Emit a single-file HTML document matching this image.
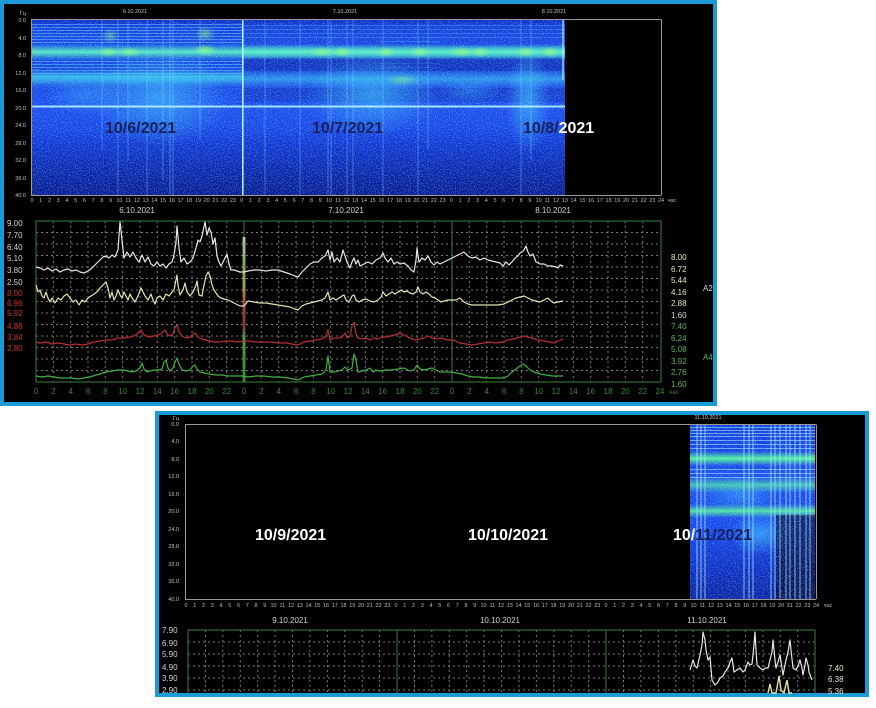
<!DOCTYPE html>
<html><head><meta charset="utf-8"><style>
html,body{margin:0;padding:0;background:#fff;width:876px;height:708px;overflow:hidden}
svg{display:block}
text{font-family:"Liberation Sans",sans-serif}
</style></head><body>
<svg width="876" height="708" viewBox="0 0 876 708" xmlns="http://www.w3.org/2000/svg">
<defs>
 <linearGradient id="sg" x1="0" y1="0" x2="0" y2="1">
  <stop offset="0" stop-color="#0a28c0"/><stop offset="0.03" stop-color="#1238d8"/>
  <stop offset="0.15" stop-color="#1644e6"/><stop offset="0.3" stop-color="#1442e0"/>
  <stop offset="0.5" stop-color="#1a4cf0"/><stop offset="0.62" stop-color="#1744e6"/>
  <stop offset="0.72" stop-color="#0f34d0"/><stop offset="0.85" stop-color="#0a26b0"/>
  <stop offset="1" stop-color="#061890"/>
 </linearGradient>
 <linearGradient id="sg2" x1="0" y1="0" x2="0" y2="1">
  <stop offset="0" stop-color="#1038d8"/><stop offset="0.3" stop-color="#1848f0"/>
  <stop offset="0.6" stop-color="#1644ea"/><stop offset="0.8" stop-color="#0e30c8"/>
  <stop offset="1" stop-color="#0820a0"/>
 </linearGradient>
 <linearGradient id="b1" x1="0" y1="0" x2="0" y2="1">
  <stop offset="0" stop-color="#48f0c0" stop-opacity="0"/><stop offset="0.5" stop-color="#58f4c0" stop-opacity="0.95"/><stop offset="1" stop-color="#48f0c0" stop-opacity="0"/>
 </linearGradient>
 <linearGradient id="b2" x1="0" y1="0" x2="0" y2="1">
  <stop offset="0" stop-color="#38c8f0" stop-opacity="0"/><stop offset="0.5" stop-color="#38c8f0" stop-opacity="0.6"/><stop offset="1" stop-color="#38c8f0" stop-opacity="0"/>
 </linearGradient>
 <linearGradient id="b3" x1="0" y1="0" x2="0" y2="1">
  <stop offset="0" stop-color="#50ff90" stop-opacity="0"/><stop offset="0.5" stop-color="#58ff98" stop-opacity="0.95"/><stop offset="1" stop-color="#50ff90" stop-opacity="0"/>
 </linearGradient>
 <linearGradient id="bar" x1="0" y1="0" x2="0" y2="1">
  <stop offset="0" stop-color="#e0f0d8"/><stop offset="0.2" stop-color="#a0d070"/>
  <stop offset="0.35" stop-color="#d0c050"/><stop offset="0.45" stop-color="#c85040"/>
  <stop offset="0.62" stop-color="#a03838"/><stop offset="0.7" stop-color="#58c058"/>
  <stop offset="1" stop-color="#38a038"/>
 </linearGradient>
 <radialGradient id="hz"><stop offset="0" stop-color="#40d8ff" stop-opacity="0.55"/><stop offset="1" stop-color="#40d8ff" stop-opacity="0"/></radialGradient>
 <radialGradient id="gz"><stop offset="0" stop-color="#90ff80" stop-opacity="0.8"/><stop offset="1" stop-color="#90ff80" stop-opacity="0"/></radialGradient>
 <filter id="nz" x="0" y="0" width="1" height="1"><feTurbulence type="fractalNoise" baseFrequency="0.85" numOctaves="1" seed="5"/><feColorMatrix type="matrix" values="0 0 0 0 0.35  0 0 0 0 0.75  0 0 0 0 1  0 0 0 3 -1.4"/></filter>
 <clipPath id="c1"><rect x="32" y="20" width="533" height="175"/></clipPath>
 <clipPath id="c2"><rect x="690" y="425" width="125" height="174"/></clipPath>
</defs>

<!-- ========== TOP PANEL ========== -->
<rect x="0" y="0" width="717" height="406" fill="#1b9ad8"/>
<rect x="4" y="4" width="709" height="398" fill="#000"/>

<g clip-path="url(#c1)">
 <rect x="32" y="20" width="533" height="175" fill="url(#sg)"/>
 <g stroke="#58c8ff" stroke-width="1" opacity="0.55">
  <line x1="32" y1="24.5" x2="243" y2="24.5"/><line x1="32" y1="27.5" x2="243" y2="27.5"/>
  <line x1="32" y1="30.5" x2="243" y2="30.5"/><line x1="32" y1="33.5" x2="243" y2="33.5"/>
  <line x1="32" y1="36.5" x2="243" y2="36.5"/><line x1="32" y1="39.5" x2="243" y2="39.5"/>
  <line x1="32" y1="42.5" x2="243" y2="42.5"/>
  <line x1="32" y1="61.5" x2="243" y2="61.5"/><line x1="32" y1="64.5" x2="243" y2="64.5"/>
  <line x1="32" y1="67.5" x2="243" y2="67.5"/><line x1="32" y1="70.5" x2="243" y2="70.5"/>
  <line x1="32" y1="73.5" x2="243" y2="73.5"/><line x1="32" y1="76.5" x2="243" y2="76.5"/>
 </g>
 <g stroke="#58c8ff" stroke-width="1" opacity="0.3">
  <line x1="244" y1="25.5" x2="565" y2="25.5"/><line x1="244" y1="29.5" x2="565" y2="29.5"/>
  <line x1="244" y1="33.5" x2="565" y2="33.5"/><line x1="244" y1="37.5" x2="565" y2="37.5"/>
  <line x1="380" y1="41.5" x2="440" y2="41.5"/><line x1="380" y1="63.5" x2="440" y2="63.5"/>
  <line x1="380" y1="67.5" x2="440" y2="67.5"/>
 </g>
 <rect x="244" y="58" width="321" height="13" fill="#041890" opacity="0.4"/>
 <rect x="244" y="88" width="321" height="14" fill="#041890" opacity="0.25"/>
 <ellipse cx="160" cy="98" rx="70" ry="48" fill="url(#hz)"/>
 <ellipse cx="372" cy="95" rx="66" ry="42" fill="url(#hz)"/>
 <ellipse cx="528" cy="100" rx="22" ry="55" fill="url(#hz)"/>
 <ellipse cx="85" cy="95" rx="40" ry="20" fill="url(#hz)" opacity="0.6"/>
 <ellipse cx="470" cy="90" rx="30" ry="14" fill="url(#hz)" opacity="0.5"/>
 <rect x="32" y="44" width="533" height="16" fill="url(#b1)"/>
 <rect x="244" y="45" width="321" height="14" fill="url(#b1)" opacity="0.6"/>
 <rect x="32" y="70" width="533" height="18" fill="url(#b2)"/>
 <rect x="32" y="70" width="211" height="14" fill="url(#b2)"/>
 <ellipse cx="108" cy="52" rx="10" ry="5" fill="url(#gz)"/>
 <ellipse cx="130" cy="52" rx="12" ry="5" fill="url(#gz)"/>
 <ellipse cx="205" cy="50" rx="12" ry="6" fill="url(#gz)"/>
 <ellipse cx="205" cy="34" rx="10" ry="8" fill="url(#gz)" opacity="0.7"/>
 <ellipse cx="110" cy="36" rx="8" ry="8" fill="url(#gz)" opacity="0.6"/>
 <ellipse cx="322" cy="52" rx="12" ry="5" fill="url(#gz)"/>
 <ellipse cx="342" cy="52" rx="10" ry="5" fill="url(#gz)"/>
 <ellipse cx="386" cy="52" rx="10" ry="5" fill="url(#gz)"/>
 <ellipse cx="420" cy="52" rx="10" ry="5" fill="url(#gz)"/>
 <ellipse cx="462" cy="52" rx="12" ry="5" fill="url(#gz)"/>
 <ellipse cx="480" cy="52" rx="10" ry="5" fill="url(#gz)"/>
 <ellipse cx="526" cy="52" rx="10" ry="5" fill="url(#gz)"/>
 <ellipse cx="550" cy="52" rx="10" ry="5" fill="url(#gz)"/>
 <ellipse cx="403" cy="80" rx="18" ry="6" fill="url(#gz)" opacity="0.6"/>
 <rect x="32" y="105.5" width="533" height="2" fill="#b8f4ff" opacity="0.9"/>
 <g stroke="#90e0ff" stroke-width="1" opacity="0.35">
  <line x1="102" y1="20" x2="102" y2="150"/><line x1="118" y1="20" x2="118" y2="195"/>
  <line x1="128" y1="20" x2="128" y2="160"/><line x1="147" y1="20" x2="147" y2="195"/>
  <line x1="163" y1="20" x2="163" y2="180"/><line x1="170" y1="20" x2="170" y2="195"/>
  <line x1="173" y1="20" x2="173" y2="195"/><line x1="200" y1="20" x2="200" y2="140"/>
  <line x1="265" y1="20" x2="265" y2="195"/><line x1="300" y1="20" x2="300" y2="195"/>
  <line x1="328" y1="20" x2="328" y2="195"/><line x1="331" y1="20" x2="331" y2="195"/>
  <line x1="347" y1="20" x2="347" y2="195"/><line x1="353" y1="20" x2="353" y2="195"/>
  <line x1="383" y1="20" x2="383" y2="195"/><line x1="418" y1="20" x2="418" y2="195"/>
  <line x1="428" y1="20" x2="428" y2="150"/><line x1="521" y1="20" x2="521" y2="195"/>
  <line x1="531" y1="20" x2="531" y2="160"/>
 </g>
 <line x1="242.8" y1="20" x2="242.8" y2="195" stroke="#c8fff0" stroke-width="1.6" opacity="0.9"/>
 <line x1="563" y1="20" x2="563" y2="80" stroke="#a0e8ff" stroke-width="1.6" opacity="0.8"/>
 <rect x="32" y="20" width="533" height="175" filter="url(#nz)" opacity="0.5"/>
</g>
<g stroke="#9a9a9a" stroke-width="1" fill="none">
 <line x1="32" y1="19.5" x2="661" y2="19.5"/>
 <line x1="661.5" y1="19.5" x2="661.5" y2="195"/>
 <line x1="31.5" y1="19" x2="31.5" y2="196"/>
 <line x1="32" y1="195.5" x2="661" y2="195.5"/>
</g>
<g fill="#c0c0c0" font-size="5.5" text-anchor="end">
 <text x="26" y="15">Гц</text>
 <text x="26" y="22">0.0</text><text x="26" y="40">4.0</text><text x="26" y="57">8.0</text>
 <text x="26" y="75">12.0</text><text x="26" y="92">16.0</text><text x="26" y="110">20.0</text>
 <text x="26" y="127">24.0</text><text x="26" y="145">28.0</text><text x="26" y="162">32.0</text>
 <text x="26" y="180">36.0</text><text x="26" y="197">40.0</text>
</g>
<g fill="#c0c0c0" font-size="5.5" text-anchor="middle">
 <text x="135" y="13">6.10.2021</text><text x="345" y="13">7.10.2021</text><text x="554" y="13">8.10.2021</text>
</g>
<text fill="#bcbcbc" font-size="5.5" text-anchor="middle" y="202"><tspan x="32">0</tspan><tspan x="40.7">1</tspan><tspan x="49.5">2</tspan><tspan x="58.2">3</tspan><tspan x="66.9">4</tspan><tspan x="75.7">5</tspan><tspan x="84.4">6</tspan><tspan x="93.2">7</tspan><tspan x="101.9">8</tspan><tspan x="110.6">9</tspan><tspan x="119.4">10</tspan><tspan x="128.1">11</tspan><tspan x="136.8">12</tspan><tspan x="145.6">13</tspan><tspan x="154.3">14</tspan><tspan x="163">15</tspan><tspan x="171.8">16</tspan><tspan x="180.5">17</tspan><tspan x="189.2">18</tspan><tspan x="198">19</tspan><tspan x="206.7">20</tspan><tspan x="215.5">21</tspan><tspan x="224.2">22</tspan><tspan x="232.9">23</tspan><tspan x="241.7">0</tspan><tspan x="250.4">1</tspan><tspan x="259.1">2</tspan><tspan x="267.9">3</tspan><tspan x="276.6">4</tspan><tspan x="285.3">5</tspan><tspan x="294.1">6</tspan><tspan x="302.8">7</tspan><tspan x="311.5">8</tspan><tspan x="320.3">9</tspan><tspan x="329">10</tspan><tspan x="337.8">11</tspan><tspan x="346.5">12</tspan><tspan x="355.2">13</tspan><tspan x="364">14</tspan><tspan x="372.7">15</tspan><tspan x="381.4">16</tspan><tspan x="390.2">17</tspan><tspan x="398.9">18</tspan><tspan x="407.6">19</tspan><tspan x="416.4">20</tspan><tspan x="425.1">21</tspan><tspan x="433.9">22</tspan><tspan x="442.6">23</tspan><tspan x="451.3">0</tspan><tspan x="460.1">1</tspan><tspan x="468.8">2</tspan><tspan x="477.5">3</tspan><tspan x="486.3">4</tspan><tspan x="495">5</tspan><tspan x="503.7">6</tspan><tspan x="512.5">7</tspan><tspan x="521.2">8</tspan><tspan x="529.9">9</tspan><tspan x="538.7">10</tspan><tspan x="547.4">11</tspan><tspan x="556.2">12</tspan><tspan x="564.9">13</tspan><tspan x="573.6">14</tspan><tspan x="582.4">15</tspan><tspan x="591.1">16</tspan><tspan x="599.8">17</tspan><tspan x="608.6">18</tspan><tspan x="617.3">19</tspan><tspan x="626">20</tspan><tspan x="634.8">21</tspan><tspan x="643.5">22</tspan><tspan x="652.3">23</tspan><tspan x="661">24</tspan><tspan x="672">час</tspan></text>

<g font-size="16" font-weight="bold">
 <text x="105" y="133" fill="#18225a">10/6/2021</text>
 <text x="312" y="133" fill="#18225a">10/7/2021</text>
 <text x="523" y="133" fill="#18225a">10/8/<tspan fill="#ffffff">2021</tspan></text>
</g>

<g fill="#d0d0d0" font-size="8" text-anchor="middle">
 <text x="137" y="213">6.10.2021</text><text x="346" y="213">7.10.2021</text><text x="553" y="213">8.10.2021</text>
</g>
<g stroke="#7a7a7a" stroke-width="1" stroke-dasharray="2,3">
 <line x1="36" y1="232.5" x2="661" y2="232.5"/><line x1="36" y1="244" x2="661" y2="244"/>
 <line x1="36" y1="255.5" x2="661" y2="255.5"/><line x1="36" y1="267" x2="661" y2="267"/>
 <line x1="36" y1="278.5" x2="661" y2="278.5"/><line x1="36" y1="290" x2="661" y2="290"/>
 <line x1="36" y1="301.5" x2="661" y2="301.5"/><line x1="36" y1="313" x2="661" y2="313"/>
 <line x1="36" y1="324.5" x2="661" y2="324.5"/><line x1="36" y1="336" x2="661" y2="336"/>
 <line x1="36" y1="347.5" x2="661" y2="347.5"/><line x1="36" y1="359" x2="661" y2="359"/>
 <line x1="36" y1="370.5" x2="661" y2="370.5"/>
 <line x1="53.3" y1="221" x2="53.3" y2="382"/><line x1="70.7" y1="221" x2="70.7" y2="382"/>
 <line x1="88" y1="221" x2="88" y2="382"/><line x1="105.3" y1="221" x2="105.3" y2="382"/>
 <line x1="122.7" y1="221" x2="122.7" y2="382"/><line x1="140" y1="221" x2="140" y2="382"/>
 <line x1="157.3" y1="221" x2="157.3" y2="382"/><line x1="174.7" y1="221" x2="174.7" y2="382"/>
 <line x1="192" y1="221" x2="192" y2="382"/><line x1="209.3" y1="221" x2="209.3" y2="382"/>
 <line x1="226.7" y1="221" x2="226.7" y2="382"/>
 <line x1="261.3" y1="221" x2="261.3" y2="382"/><line x1="278.7" y1="221" x2="278.7" y2="382"/>
 <line x1="296" y1="221" x2="296" y2="382"/><line x1="313.3" y1="221" x2="313.3" y2="382"/>
 <line x1="330.7" y1="221" x2="330.7" y2="382"/><line x1="348" y1="221" x2="348" y2="382"/>
 <line x1="365.3" y1="221" x2="365.3" y2="382"/><line x1="382.7" y1="221" x2="382.7" y2="382"/>
 <line x1="400" y1="221" x2="400" y2="382"/><line x1="417.3" y1="221" x2="417.3" y2="382"/>
 <line x1="434.7" y1="221" x2="434.7" y2="382"/>
 <line x1="469.3" y1="221" x2="469.3" y2="382"/><line x1="486.7" y1="221" x2="486.7" y2="382"/>
 <line x1="504" y1="221" x2="504" y2="382"/><line x1="521.3" y1="221" x2="521.3" y2="382"/>
 <line x1="538.7" y1="221" x2="538.7" y2="382"/><line x1="556" y1="221" x2="556" y2="382"/>
 <line x1="573.3" y1="221" x2="573.3" y2="382"/><line x1="590.7" y1="221" x2="590.7" y2="382"/>
 <line x1="608" y1="221" x2="608" y2="382"/><line x1="625.3" y1="221" x2="625.3" y2="382"/>
 <line x1="642.7" y1="221" x2="642.7" y2="382"/>
</g>
<g stroke="#2f6a2f" stroke-width="1.2" fill="none">
 <rect x="36" y="221" width="625" height="161"/>
 <line x1="244" y1="221" x2="244" y2="382"/><line x1="452" y1="221" x2="452" y2="382"/>
</g>
<rect x="242.5" y="237" width="3" height="145" fill="url(#bar)" opacity="0.75"/>
<g fill="none" stroke-width="1.2" stroke-linejoin="round">
 <polyline stroke="#e6e6e6" points="36,267 40,268 44,270 48,268 52,271 56,269 60,272 64,270 68,269 72,271 76,270 80,272 84,273 88,271 92,268 96,264 100,260 103,257 106,256 109,258 112,255 115,257 118,250 120,222 122,240 124,258 127,252 130,257 133,252 136,258 139,262 142,255 145,262 148,257 151,264 154,266 157,262 160,266 163,264 166,268 169,264 172,262 174,255 176,242 177,226 179,248 181,262 184,258 187,264 190,262 193,258 196,248 198,240 200,242 202,236 205,222 207,235 209,228 211,232 213,244 215,238 217,256 219,262 221,266 223,262 225,258 227,254 229,264 231,270 234,270 237,271 240,272 244,272 248,271 254,270 260,270 266,271 272,270 278,270 284,272 290,274 295,276 298,277 302,272 306,268 310,264 314,262 318,262 322,258 325,256 328,250 330,260 332,252 334,262 337,258 340,262 343,250 345,256 347,262 350,268 352,262 354,258 356,264 358,260 360,266 364,264 368,262 372,264 376,260 380,258 383,253 385,258 388,262 391,258 394,264 397,262 400,264 404,263 408,266 411,270 414,272 416,260 417,248 419,262 422,258 425,260 428,256 431,262 434,265 437,262 440,264 444,262 448,260 452,258 456,256 460,254 464,252 468,256 472,258 476,257 480,260 484,258 488,260 492,261 496,262 500,263 503,266 506,262 509,265 512,262 515,258 518,256 520,253 522,252 524,250 526,246 528,252 530,256 533,254 536,262 540,264 544,264 548,266 552,266 556,267 558,268 560,265 563,266"/>
 <polyline stroke="#e4e4b0" points="36,285 38,292 40,290 42,296 44,298 46,292 48,298 50,302 52,298 55,303 58,298 61,300 64,296 67,294 70,298 73,302 76,300 79,305 82,300 85,302 88,298 91,296 94,294 97,292 100,288 103,285 106,282 108,288 110,298 112,292 114,300 116,296 118,290 120,295 122,298 124,292 126,296 128,300 130,294 132,298 135,302 138,296 141,288 143,292 145,296 148,300 151,294 153,300 155,304 157,298 160,296 163,300 166,294 169,296 172,292 174,290 176,280 177,275 178,285 180,295 183,290 185,283 187,292 190,296 193,292 196,285 197,281 199,295 202,296 204,285 206,276 208,272 210,276 212,285 214,290 216,293 218,296 221,298 224,299 228,300 232,302 236,304 240,306 244,306 248,301 254,302 260,303 266,303 272,304 278,305 284,306 290,307 295,309 298,310 302,306 306,304 310,303 314,302 318,301 322,300 325,298 328,292 330,300 333,298 336,300 339,298 342,296 344,295 346,300 349,302 352,296 354,295 356,300 359,302 362,300 366,299 370,301 374,302 378,300 381,297 383,292 386,296 389,294 392,292 395,294 398,292 401,290 404,292 407,291 410,293 413,294 416,292 418,287 420,292 423,294 426,292 429,294 432,297 435,298 438,300 441,302 444,301 448,300 452,300 456,300 460,298 464,302 468,304 472,305 476,305 480,305 486,305 492,305 498,305 504,304 508,302 512,300 516,298 520,297 524,296 528,298 532,300 536,301 540,302 544,300 548,298 551,301 554,303 558,302 563,301"/>
 <polyline stroke="#b83030" points="36,342 40,343 46,342 52,344 58,343 64,344 70,345 76,344 82,345 88,344 94,342 100,341 106,340 112,340 118,338 124,338 130,337 134,336 138,333 141,330 143,334 146,336 150,337 154,336 158,335 162,333 165,330 167,334 170,336 173,334 175,328 177,325 179,332 182,336 186,338 190,337 193,334 195,333 198,337 202,339 206,340 210,341 214,342 220,342 226,341 232,341 238,342 244,341 248,341 254,342 262,342 270,342 278,343 286,343 292,344 298,345 304,342 310,341 316,340 322,339 326,336 328,330 330,340 334,338 338,338 342,337 345,333 347,338 350,336 352,326 354,322 356,334 358,338 362,339 366,338 370,340 374,338 378,339 382,337 386,337 390,336 394,335 398,334 400,333 404,335 408,337 412,339 416,340 420,339 424,338 428,336 432,338 436,339 440,338 444,339 448,340 452,340 456,341 460,343 466,344 472,345 478,344 484,343 490,342 496,343 502,342 508,340 514,339 520,337 524,336 528,337 532,338 538,340 544,341 550,342 554,343 558,341 563,339"/>
 <polyline stroke="#40b040" points="36,376 42,377 48,376 54,377 60,378 66,378 72,378 78,379 84,378 90,377 96,375 100,374 106,372 112,371 118,370 124,370 128,371 132,372 136,371 140,368 142,363 144,369 147,372 150,371 154,370 158,370 162,369 164,362 166,360 168,368 170,371 173,368 175,362 177,358 179,364 182,370 186,371 190,370 193,366 195,365 197,369 200,372 205,373 210,374 216,375 222,375 228,376 234,376 240,376 244,376 248,377 256,376 264,376 272,377 280,377 288,378 294,379 298,380 304,377 310,376 316,375 322,374 326,370 328,356 330,372 334,372 338,371 342,370 345,367 348,370 352,368 354,354 356,360 358,372 362,371 366,370 370,368 373,372 376,370 380,371 386,370 392,370 398,369 404,368 410,371 414,370 417,365 420,369 424,370 428,369 432,368 436,370 440,372 446,372 452,372 456,373 462,374 468,376 474,377 480,377 486,378 492,378 498,378 504,378 508,376 512,372 516,369 520,366 523,364 526,366 530,370 534,372 540,374 546,375 552,376 558,376 563,376"/>
</g>
<g font-size="8" fill="#d4d4d4">
 <text x="7" y="226">9.00</text><text x="7" y="238">7.70</text><text x="7" y="250">6.40</text>
 <text x="7" y="261">5.10</text><text x="7" y="273">3.80</text><text x="7" y="285">2.50</text>
</g>
<g font-size="8" fill="#c83030">
 <text x="7" y="296">8.00</text><text x="7" y="306">6.96</text><text x="7" y="316">5.92</text>
 <text x="7" y="329">4.88</text><text x="7" y="340">3.84</text><text x="7" y="351">2.80</text>
</g>
<g font-size="8" fill="#e6e6b8">
 <text x="671" y="260">8.00</text><text x="671" y="272">6.72</text><text x="671" y="283">5.44</text>
 <text x="671" y="295">4.16</text><text x="671" y="306">2.88</text>
 <text x="671" y="318" fill="#d8d8d8">1.60</text>
 <text x="703" y="291" fill="#d8d8d8">A2</text>
</g>
<g font-size="8" fill="#58b858">
 <text x="671" y="329">7.40</text><text x="671" y="341">6.24</text><text x="671" y="352">5.08</text>
 <text x="671" y="364">3.92</text><text x="671" y="375">2.76</text><text x="671" y="387">1.60</text>
 <text x="703" y="360">A4</text>
</g>
<text fill="#2e8a2e" font-size="8" text-anchor="middle" y="394"><tspan x="36">0</tspan><tspan x="53.3">2</tspan><tspan x="70.7">4</tspan><tspan x="88">6</tspan><tspan x="105.3">8</tspan><tspan x="122.7">10</tspan><tspan x="140">12</tspan><tspan x="157.3">14</tspan><tspan x="174.7">16</tspan><tspan x="192">18</tspan><tspan x="209.3">20</tspan><tspan x="226.7">22</tspan><tspan x="244">0</tspan><tspan x="261.3">2</tspan><tspan x="278.7">4</tspan><tspan x="296">6</tspan><tspan x="313.3">8</tspan><tspan x="330.7">10</tspan><tspan x="348">12</tspan><tspan x="365.3">14</tspan><tspan x="382.7">16</tspan><tspan x="400">18</tspan><tspan x="417.3">20</tspan><tspan x="434.7">22</tspan><tspan x="452">0</tspan><tspan x="469.3">2</tspan><tspan x="486.7">4</tspan><tspan x="504">6</tspan><tspan x="521.3">8</tspan><tspan x="538.7">10</tspan><tspan x="556">12</tspan><tspan x="573.3">14</tspan><tspan x="590.7">16</tspan><tspan x="608">18</tspan><tspan x="625.3">20</tspan><tspan x="642.7">22</tspan><tspan x="660">24</tspan><tspan x="674" font-size="6">час</tspan></text>

<!-- ========== BOTTOM PANEL ========== -->
<rect x="155" y="411" width="714" height="286" fill="#1b9ad8"/>
<rect x="159" y="415" width="706" height="278" fill="#000"/>

<g clip-path="url(#c2)">
 <rect x="690" y="425" width="125" height="174" fill="url(#sg2)"/>
 <g stroke="#a0e8ff" stroke-width="1" opacity="0.6">
  <line x1="690" y1="427.5" x2="815" y2="427.5"/><line x1="690" y1="430.5" x2="815" y2="430.5"/>
  <line x1="690" y1="433.5" x2="815" y2="433.5"/><line x1="690" y1="436.5" x2="815" y2="436.5"/>
  <line x1="690" y1="440.5" x2="815" y2="440.5"/><line x1="690" y1="444.5" x2="815" y2="444.5"/>
  <line x1="690" y1="448.5" x2="815" y2="448.5"/><line x1="690" y1="469.5" x2="815" y2="469.5"/>
  <line x1="690" y1="473.5" x2="815" y2="473.5"/><line x1="690" y1="477.5" x2="815" y2="477.5"/>
 </g>
 <ellipse cx="760" cy="534" rx="32" ry="22" fill="url(#hz)"/>
 <ellipse cx="740" cy="495" rx="40" ry="18" fill="url(#hz)" opacity="0.7"/>
 <rect x="690" y="451" width="125" height="15" fill="url(#b3)"/>
 <rect x="690" y="477" width="125" height="16" fill="url(#b3)" opacity="0.7"/>
 <rect x="690" y="504" width="125" height="14" fill="url(#b3)" opacity="0.9"/>
 <rect x="776" y="515" width="39" height="84" fill="#000018" opacity="0.55"/>
 <g stroke="#b0f0ff" stroke-width="1.2" opacity="0.6">
  <line x1="697" y1="425" x2="697" y2="599"/><line x1="701" y1="425" x2="701" y2="599"/>
  <line x1="705" y1="425" x2="705" y2="599"/><line x1="744" y1="425" x2="744" y2="599"/>
  <line x1="749" y1="425" x2="749" y2="599"/><line x1="753" y1="425" x2="753" y2="599"/>
  <line x1="771" y1="425" x2="771" y2="599"/><line x1="775" y1="425" x2="775" y2="599"/>
  <line x1="780" y1="425" x2="780" y2="599"/><line x1="786" y1="425" x2="786" y2="599"/>
  <line x1="790" y1="425" x2="790" y2="599"/><line x1="795" y1="425" x2="795" y2="599"/>
  <line x1="800" y1="425" x2="800" y2="599"/><line x1="806" y1="425" x2="806" y2="599"/>
  <line x1="810" y1="425" x2="810" y2="599"/>
 </g>
 <rect x="690" y="425" width="125" height="174" filter="url(#nz)" opacity="0.5"/>
</g>
<g stroke="#9a9a9a" stroke-width="1" fill="none">
 <line x1="185" y1="424.5" x2="816" y2="424.5"/>
 <line x1="816.5" y1="424.5" x2="816.5" y2="599"/>
 <line x1="185.5" y1="424" x2="185.5" y2="600"/>
 <line x1="185" y1="599.5" x2="816" y2="599.5"/>
</g>
<g fill="#c0c0c0" font-size="5.5" text-anchor="end">
 <text x="179" y="420">Гц</text>
 <text x="179" y="426">0.0</text><text x="179" y="443">4.0</text><text x="179" y="461">8.0</text>
 <text x="179" y="478">12.0</text><text x="179" y="496">16.0</text><text x="179" y="513">20.0</text>
 <text x="179" y="531">24.0</text><text x="179" y="548">28.0</text><text x="179" y="566">32.0</text>
 <text x="179" y="583">36.0</text><text x="179" y="601">40.0</text>
</g>
<text x="708" y="419" fill="#c0c0c0" font-size="5.5" text-anchor="middle">11.10.2021</text>
<text fill="#bcbcbc" font-size="5.5" text-anchor="middle" y="607"><tspan x="186">0</tspan><tspan x="194.8">1</tspan><tspan x="203.5">2</tspan><tspan x="212.3">3</tspan><tspan x="221">4</tspan><tspan x="229.8">5</tspan><tspan x="238.5">6</tspan><tspan x="247.3">7</tspan><tspan x="256">8</tspan><tspan x="264.8">9</tspan><tspan x="273.5">10</tspan><tspan x="282.3">11</tspan><tspan x="291">12</tspan><tspan x="299.8">13</tspan><tspan x="308.5">14</tspan><tspan x="317.3">15</tspan><tspan x="326">16</tspan><tspan x="334.8">17</tspan><tspan x="343.5">18</tspan><tspan x="352.3">19</tspan><tspan x="361">20</tspan><tspan x="369.8">21</tspan><tspan x="378.5">22</tspan><tspan x="387.3">23</tspan><tspan x="396">0</tspan><tspan x="404.8">1</tspan><tspan x="413.5">2</tspan><tspan x="422.3">3</tspan><tspan x="431">4</tspan><tspan x="439.8">5</tspan><tspan x="448.5">6</tspan><tspan x="457.3">7</tspan><tspan x="466">8</tspan><tspan x="474.8">9</tspan><tspan x="483.5">10</tspan><tspan x="492.3">11</tspan><tspan x="501">12</tspan><tspan x="509.8">13</tspan><tspan x="518.5">14</tspan><tspan x="527.3">15</tspan><tspan x="536">16</tspan><tspan x="544.8">17</tspan><tspan x="553.5">18</tspan><tspan x="562.3">19</tspan><tspan x="571">20</tspan><tspan x="579.8">21</tspan><tspan x="588.5">22</tspan><tspan x="597.3">23</tspan><tspan x="606">0</tspan><tspan x="614.8">1</tspan><tspan x="623.5">2</tspan><tspan x="632.3">3</tspan><tspan x="641">4</tspan><tspan x="649.8">5</tspan><tspan x="658.5">6</tspan><tspan x="667.3">7</tspan><tspan x="676">8</tspan><tspan x="684.8">9</tspan><tspan x="693.5">10</tspan><tspan x="702.3">11</tspan><tspan x="711">12</tspan><tspan x="719.8">13</tspan><tspan x="728.5">14</tspan><tspan x="737.3">15</tspan><tspan x="746">16</tspan><tspan x="754.8">17</tspan><tspan x="763.5">18</tspan><tspan x="772.3">19</tspan><tspan x="781">20</tspan><tspan x="789.8">21</tspan><tspan x="798.5">22</tspan><tspan x="807.3">23</tspan><tspan x="816">24</tspan><tspan x="828">час</tspan></text>

<g font-size="16" font-weight="bold">
 <text x="255" y="540" fill="#ffffff">10/9/2021</text>
 <text x="468" y="540" fill="#ffffff">10/10/2021</text>
 <text x="673" y="540" fill="#ffffff">10/<tspan fill="#18225a">11/2021</tspan></text>
</g>

<g fill="#d0d0d0" font-size="8" text-anchor="middle">
 <text x="290" y="623">9.10.2021</text><text x="500" y="623">10.10.2021</text><text x="707" y="623">11.10.2021</text>
</g>
<g stroke="#7a7a7a" stroke-width="1" stroke-dasharray="2,3">
 <line x1="188" y1="642" x2="815" y2="642"/><line x1="188" y1="654" x2="815" y2="654"/>
 <line x1="188" y1="666" x2="815" y2="666"/><line x1="188" y1="678" x2="815" y2="678"/>
 <line x1="188" y1="690" x2="815" y2="690"/>
 <line x1="205.4" y1="630" x2="205.4" y2="693"/><line x1="222.8" y1="630" x2="222.8" y2="693"/>
 <line x1="240.3" y1="630" x2="240.3" y2="693"/><line x1="257.7" y1="630" x2="257.7" y2="693"/>
 <line x1="275.1" y1="630" x2="275.1" y2="693"/><line x1="292.5" y1="630" x2="292.5" y2="693"/>
 <line x1="309.9" y1="630" x2="309.9" y2="693"/><line x1="327.4" y1="630" x2="327.4" y2="693"/>
 <line x1="344.8" y1="630" x2="344.8" y2="693"/><line x1="362.2" y1="630" x2="362.2" y2="693"/>
 <line x1="379.6" y1="630" x2="379.6" y2="693"/>
 <line x1="414.5" y1="630" x2="414.5" y2="693"/><line x1="431.9" y1="630" x2="431.9" y2="693"/>
 <line x1="449.3" y1="630" x2="449.3" y2="693"/><line x1="466.7" y1="630" x2="466.7" y2="693"/>
 <line x1="484.1" y1="630" x2="484.1" y2="693"/><line x1="501.6" y1="630" x2="501.6" y2="693"/>
 <line x1="519" y1="630" x2="519" y2="693"/><line x1="536.4" y1="630" x2="536.4" y2="693"/>
 <line x1="553.8" y1="630" x2="553.8" y2="693"/><line x1="571.2" y1="630" x2="571.2" y2="693"/>
 <line x1="588.7" y1="630" x2="588.7" y2="693"/>
 <line x1="623.5" y1="630" x2="623.5" y2="693"/><line x1="640.9" y1="630" x2="640.9" y2="693"/>
 <line x1="658.3" y1="630" x2="658.3" y2="693"/><line x1="675.8" y1="630" x2="675.8" y2="693"/>
 <line x1="693.2" y1="630" x2="693.2" y2="693"/><line x1="710.6" y1="630" x2="710.6" y2="693"/>
 <line x1="728" y1="630" x2="728" y2="693"/><line x1="745.4" y1="630" x2="745.4" y2="693"/>
 <line x1="762.9" y1="630" x2="762.9" y2="693"/><line x1="780.3" y1="630" x2="780.3" y2="693"/>
 <line x1="797.7" y1="630" x2="797.7" y2="693"/>
</g>
<g stroke="#2f6a2f" stroke-width="1.2" fill="none">
 <line x1="188" y1="630" x2="815" y2="630"/>
 <line x1="188" y1="630" x2="188" y2="693"/><line x1="815" y1="630" x2="815" y2="693"/>
 <line x1="397" y1="630" x2="397" y2="693"/><line x1="606" y1="630" x2="606" y2="693"/>
</g>
<polyline fill="none" stroke="#e4e4a0" stroke-width="1.4" points="768,693 770,684 772,693 776,693 779,676 781,690 784,693 787,680 789,693 792,693"/>
<polyline fill="none" stroke="#e6e6e6" stroke-width="1.2" stroke-linejoin="round" points="690,670 693,660 695,666 697,668 700,655 702,645 703,632 705,640 706,650 708,660 710,657 712,680 715,685 718,682 720,678 723,676 725,672 728,668 730,662 732,658 734,672 737,670 740,668 743,672 745,670 748,662 750,665 752,664 754,645 755,632 756,650 757,665 760,668 763,670 765,668 768,668 770,660 772,652 773,640 775,660 776,668 778,662 780,655 782,668 783,675 786,660 788,652 790,640 791,650 793,668 796,670 798,666 800,660 802,668 803,675 805,665 806,658 808,665 809,672 812,680"/>
<g font-size="8" fill="#d4d4d4">
 <text x="162" y="633">7.90</text><text x="162" y="646">6.90</text><text x="162" y="657">5.90</text>
 <text x="162" y="670">4.90</text><text x="162" y="681">3.90</text><text x="162" y="693">2.90</text>
</g>
<g font-size="8" fill="#e6e6c8">
 <text x="828" y="671">7.40</text><text x="828" y="682">6.38</text><text x="828" y="694">5.36</text>
</g>
</svg>
</body></html>
